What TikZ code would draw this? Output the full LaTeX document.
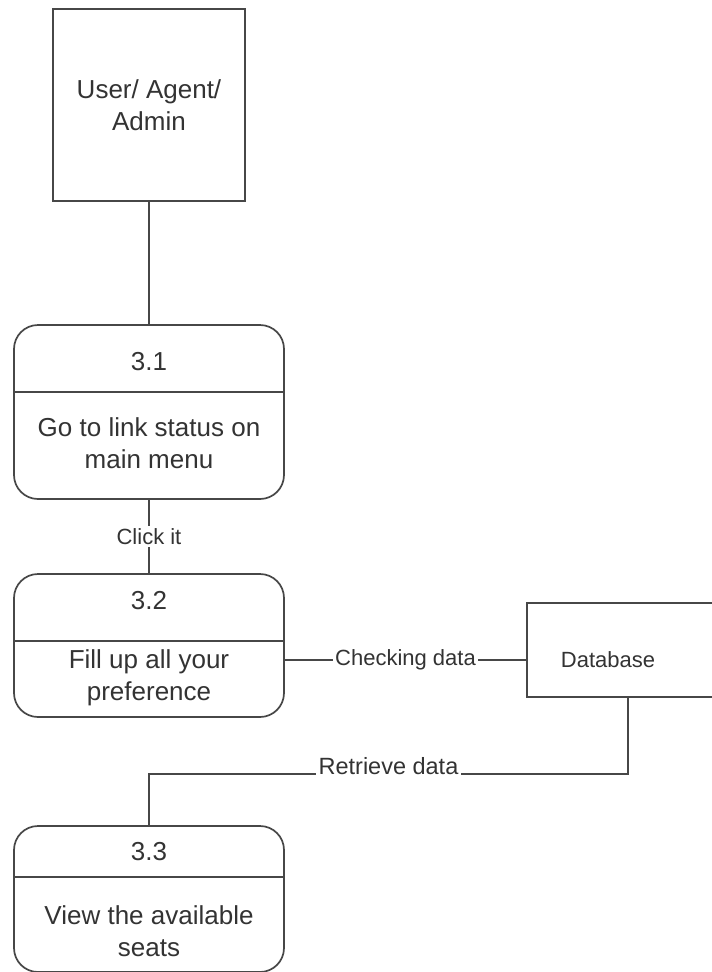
\documentclass[tikz,border=0pt]{standalone}
\usepackage{fontspec}
\setmainfont{Liberation Sans}
\begin{document}
\begin{tikzpicture}[x=1pt,y=-1pt,
  ln/.style={draw=black!72,line width=1.7pt},
  ent/.style={ln,rectangle,inner sep=0pt},
  proc/.style={ln,rectangle,rounded corners=24pt,inner sep=0pt,minimum width=270pt},
  big/.style={font=\fontsize{26}{32}\selectfont,text=black!80,align=center,inner sep=0pt},
  lbl/.style={font=\fontsize{22}{26}\selectfont,text=black!80,fill=white,inner sep=2pt}]
\useasboundingbox (0,0) rectangle (712,972);
\fill[white] (0,0) rectangle (712,972);
% external entity
\node[ent,minimum width=192pt,minimum height=192pt] (user) at (149,105) {};
\node[big] (usert) at (149,105) {User/ Agent/\\Admin};
% processes
\node[proc,minimum height=174pt] (p31) at (149,412) {};
\draw[ln] (p31.west |- 0,392) -- (p31.east |- 0,392);
\node[big] (n31) at (149,362) {3.1};
\node[big] (t31) at (149,443) {Go to link status on\\main menu};
\node[proc,minimum height=143pt] (p32) at (149,645.5) {};
\draw[ln] (p32.west |- 0,641) -- (p32.east |- 0,641);
\node[big] (n32) at (149,601) {3.2};
\node[big] (t32) at (149,678) {Fill up all your\\preference};
\node[proc,minimum height=146pt] (p33) at (149,899) {};
\draw[ln] (p33.west |- 0,877) -- (p33.east |- 0,877);
\node[big] (n33) at (149,852) {3.3};
\node[big] (t33) at (149,931) {View the available\\seats};
% data store
\node[ent,minimum width=192pt,minimum height=94pt] (db) at (623,650) {};
\node[font=\fontsize{22}{26}\selectfont,text=black!80,inner sep=0pt] (dbt) at (608,660) {Database};
% connectors
\draw[ln] (user.south) -- (p31.north);
\draw[ln] (p31.south) -- node[lbl] {Click it} (p32.north);
\draw[ln] (p32.east |- 0,660) -- node[lbl] {Checking data} (db.west |- 0,660);
\coordinate (c1) at (149,774);
\coordinate (c2) at (628,774);
\draw[ln] (p33.north) -- (c1) -- node[lbl,anchor=base,inner sep=3pt,font=\fontsize{23.5}{28}\selectfont] {Retrieve data} (c2) -- (c2 |- db.south);
\end{tikzpicture}
\end{document}
